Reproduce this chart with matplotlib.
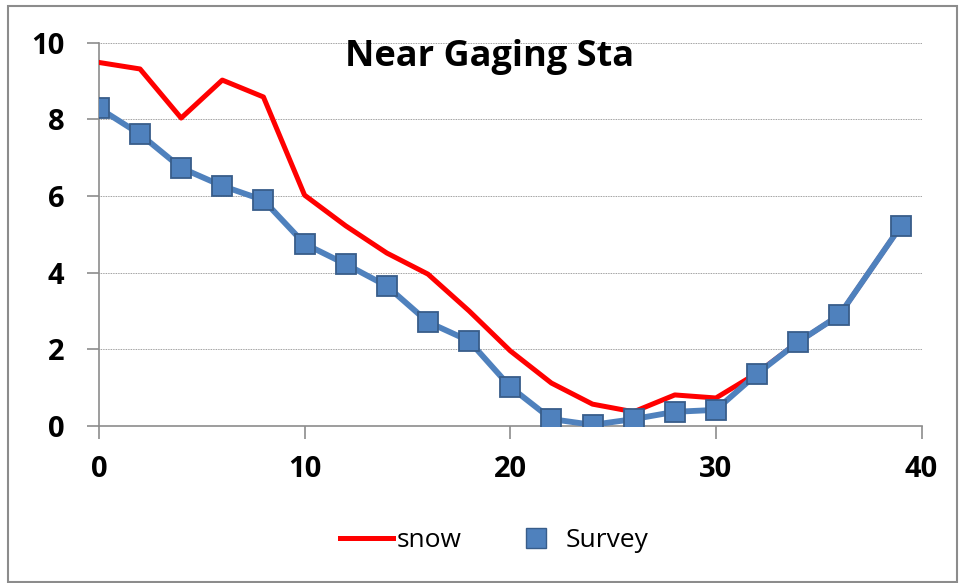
import numpy as np
import matplotlib.pyplot as plt
from matplotlib.lines import Line2D
from matplotlib.patches import Rectangle

# data
survey_x = [0, 2, 4, 6, 8, 10, 12, 14, 16, 18, 20, 22, 24, 26, 28, 30, 32, 34, 36, 39]
survey_y = [8.29, 7.61, 6.73, 6.26, 5.89, 4.75, 4.22, 3.65, 2.71, 2.22, 1.02, 0.18,
            0.03, 0.18, 0.37, 0.42, 1.36, 2.19, 2.89, 5.22]
snow_x = [0, 2, 4, 6, 8, 10, 12, 14, 16, 18, 20, 22, 24, 26, 28, 30, 32, 34, 36, 39]
snow_y = [9.48, 9.31, 8.03, 9.02, 8.58, 6.02, 5.22, 4.51, 3.96, 3.0, 1.96, 1.12,
          0.57, 0.37, 0.81, 0.73, 1.38, 2.19, 2.89, 5.22]

plt.rcParams['font.family'] = ['Open Sans', 'DejaVu Sans']

fig = plt.figure(figsize=(9.6, 5.83), dpi=100)
ax = fig.add_axes([0.103, 0.2693, 0.857, 0.6578])

# grey frame round the whole chart
fig.patches.append(Rectangle((8 / 960, 0.002), 949 / 960, 1 - 0.002 - 6 / 583,
                             transform=fig.transFigure, fill=False,
                             edgecolor='#8c8c8c', linewidth=1.5))

ax.plot(snow_x, snow_y, color='#ff0000', linewidth=3.6, zorder=3)
ax.plot(survey_x, survey_y, color='#4f81bd', linewidth=4.2, marker='s',
        markersize=14, markerfacecolor='#4f81bd', markeredgecolor='#385d8a',
        markeredgewidth=1.3, zorder=4)

ax.set_xlim(0, 40)
ax.set_ylim(0, 10)
ax.set_xticks([0, 10, 20, 30, 40])
ax.set_yticks([0, 2, 4, 6, 8, 10])
ax.grid(axis='y', linestyle=(0, (1, 1)), color='#7f7f7f', linewidth=0.6)
ax.set_axisbelow(True)

for s in ['top', 'right']:
    ax.spines[s].set_visible(False)
for s in ['left', 'bottom']:
    ax.spines[s].set_color('#8c8c8c')
    ax.spines[s].set_linewidth(1.2)
ax.tick_params(axis='both', direction='out', length=9, width=1.2, color='#8c8c8c',
               labelsize=21)
ax.tick_params(axis='y', pad=16)
ax.tick_params(axis='x', pad=12)
for lbl in ax.get_xticklabels() + ax.get_yticklabels():
    lbl.set_fontweight('bold')

ax.text(0.475, 0.962, 'Near Gaging Sta', transform=ax.transAxes, ha='center',
        va='center', fontsize=26, fontweight='bold')

handles = [Line2D([], [], color='#ff0000', linewidth=3.6),
           Line2D([], [], linestyle='none', marker='s', markersize=15,
                  markerfacecolor='#4f81bd', markeredgecolor='#385d8a')]
fig.legend(handles, ['snow', 'Survey'], loc='center', bbox_to_anchor=(0.515, 0.073),
           ncol=2, frameon=False, fontsize=19, handlelength=2.0, handletextpad=0.15,
           columnspacing=1.8)

fig.savefig('out.png', dpi=100)
